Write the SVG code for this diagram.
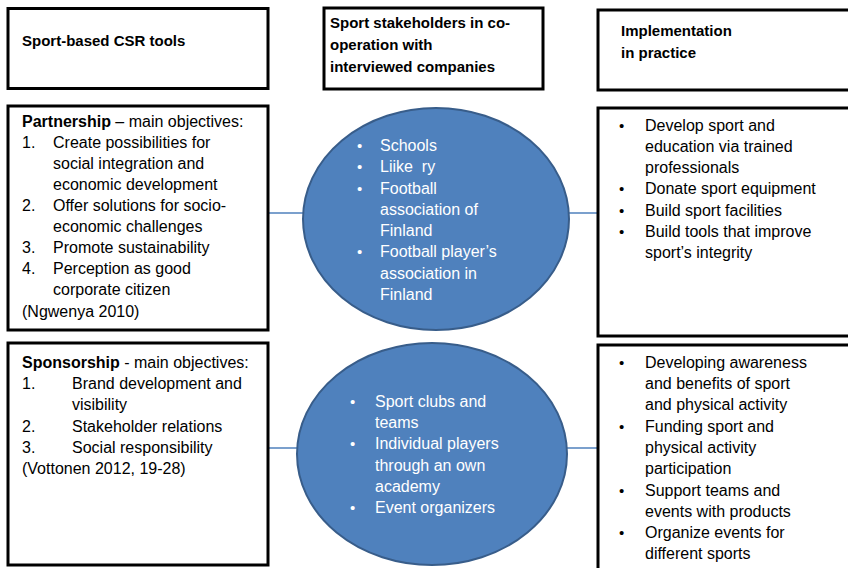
<svg xmlns="http://www.w3.org/2000/svg" width="848" height="568" viewBox="0 0 848 568">
  <style>
    .box { fill: #ffffff; stroke: #000000; stroke-width: 3; }
    .oval { fill: #4f81bd; stroke: #385d8a; stroke-width: 2; }
    .link { stroke: #4f81bd; stroke-width: 1.5; fill: none; }
    text { font-family: "Liberation Sans", Arial, sans-serif; font-size: 16px; fill: #000000; white-space: pre; }
    .head { font-weight: bold; font-size: 15px; }
    .b { font-weight: bold; }
    .w { fill: #ffffff; }
    .dot { font-size: 15px; }
  </style>
  <rect width="848" height="568" fill="#ffffff"/>

  <!-- connectors between tools, stakeholders and practice -->
  <g id="connectors">
    <line class="link" x1="268" y1="213" x2="303" y2="213"/>
    <line class="link" x1="569" y1="213" x2="598" y2="213"/>
    <line class="link" x1="268" y1="448" x2="297" y2="448"/>
    <line class="link" x1="567" y1="448" x2="598" y2="448"/>
  </g>

  <!-- column headers -->
  <g id="head-tools">
    <rect class="box" x="8" y="8.5" width="260" height="80"/>
    <text class="head" x="22" y="46">Sport-based CSR tools</text>
  </g>
  <g id="head-stakeholders">
    <rect class="box" x="324" y="8" width="219" height="81"/>
    <text class="head" x="330" y="28">Sport stakeholders in co-</text>
    <text class="head" x="330" y="50">operation with</text>
    <text class="head" x="330" y="72">interviewed companies</text>
  </g>
  <g id="head-practice">
    <rect class="box" x="598" y="10" width="262" height="80"/>
    <text class="head" x="621" y="36">Implementation</text>
    <text class="head" x="621" y="58">in practice</text>
  </g>

  <!-- partnership row -->
  <g id="partnership">
    <rect class="box" x="8" y="106" width="260" height="224"/>
    <text x="22" y="127"><tspan class="b">Partnership</tspan> – main objectives:</text>
    <text x="22" y="148">1.</text><text x="53" y="148">Create possibilities for</text>
    <text x="53" y="169">social integration and</text>
    <text x="53" y="190">economic development</text>
    <text x="22" y="211">2.</text><text x="53" y="211">Offer solutions for socio-</text>
    <text x="53" y="232">economic challenges</text>
    <text x="22" y="253">3.</text><text x="53" y="253">Promote sustainability</text>
    <text x="22" y="274">4.</text><text x="53" y="274">Perception as good</text>
    <text x="53" y="295">corporate citizen</text>
    <text x="22" y="317">(Ngwenya 2010)</text>
  </g>
  <g id="partners">
    <ellipse class="oval" cx="436" cy="219" rx="133" ry="111"/>
    <text class="w dot" x="357" y="151">•</text><text class="w" x="380" y="151">Schools</text>
    <text class="w dot" x="357" y="172">•</text><text class="w" x="380" y="172">Liike  ry</text>
    <text class="w dot" x="357" y="194">•</text><text class="w" x="380" y="194">Football</text>
    <text class="w" x="380" y="215">association of</text>
    <text class="w" x="380" y="236">Finland</text>
    <text class="w dot" x="357" y="257">•</text><text class="w" x="380" y="257">Football player’s</text>
    <text class="w" x="380" y="279">association in</text>
    <text class="w" x="380" y="300">Finland</text>
  </g>
  <g id="partnership-practice">
    <rect class="box" x="598" y="108" width="262" height="228"/>
    <text class="dot" x="619" y="131">•</text><text x="645" y="131">Develop sport and</text>
    <text x="645" y="152">education via trained</text>
    <text x="645" y="173">professionals</text>
    <text class="dot" x="619" y="194">•</text><text x="645" y="194">Donate sport equipment</text>
    <text class="dot" x="619" y="216">•</text><text x="645" y="216">Build sport facilities</text>
    <text class="dot" x="619" y="237">•</text><text x="645" y="237">Build tools that improve</text>
    <text x="645" y="258">sport’s integrity</text>
  </g>

  <!-- sponsorship row -->
  <g id="sponsorship">
    <rect class="box" x="8" y="343" width="260" height="222"/>
    <text x="22" y="368"><tspan class="b">Sponsorship</tspan> - main objectives:</text>
    <text x="22" y="389">1.</text><text x="72" y="389">Brand development and</text>
    <text x="72" y="410">visibility</text>
    <text x="22" y="432">2.</text><text x="72" y="432">Stakeholder relations</text>
    <text x="22" y="453">3.</text><text x="72" y="453">Social responsibility</text>
    <text x="22" y="474">(Vottonen 2012, 19-28)</text>
  </g>
  <g id="sponsored">
    <ellipse class="oval" cx="432" cy="454" rx="135" ry="111"/>
    <text class="w dot" x="350" y="407">•</text><text class="w" x="375" y="407">Sport clubs and</text>
    <text class="w" x="375" y="428">teams</text>
    <text class="w dot" x="350" y="449">•</text><text class="w" x="375" y="449">Individual players</text>
    <text class="w" x="375" y="471">through an own</text>
    <text class="w" x="375" y="492">academy</text>
    <text class="w dot" x="350" y="513">•</text><text class="w" x="375" y="513">Event organizers</text>
  </g>
  <g id="sponsorship-practice">
    <rect class="box" x="598" y="345" width="262" height="240"/>
    <text class="dot" x="619" y="368">•</text><text x="645" y="368">Developing awareness</text>
    <text x="645" y="389">and benefits of sport</text>
    <text x="645" y="410">and physical activity</text>
    <text class="dot" x="619" y="432">•</text><text x="645" y="432">Funding sport and</text>
    <text x="645" y="453">physical activity</text>
    <text x="645" y="474">participation</text>
    <text class="dot" x="619" y="496">•</text><text x="645" y="496">Support teams and</text>
    <text x="645" y="517">events with products</text>
    <text class="dot" x="619" y="538">•</text><text x="645" y="538">Organize events for</text>
    <text x="645" y="559">different sports</text>
  </g>
</svg>
